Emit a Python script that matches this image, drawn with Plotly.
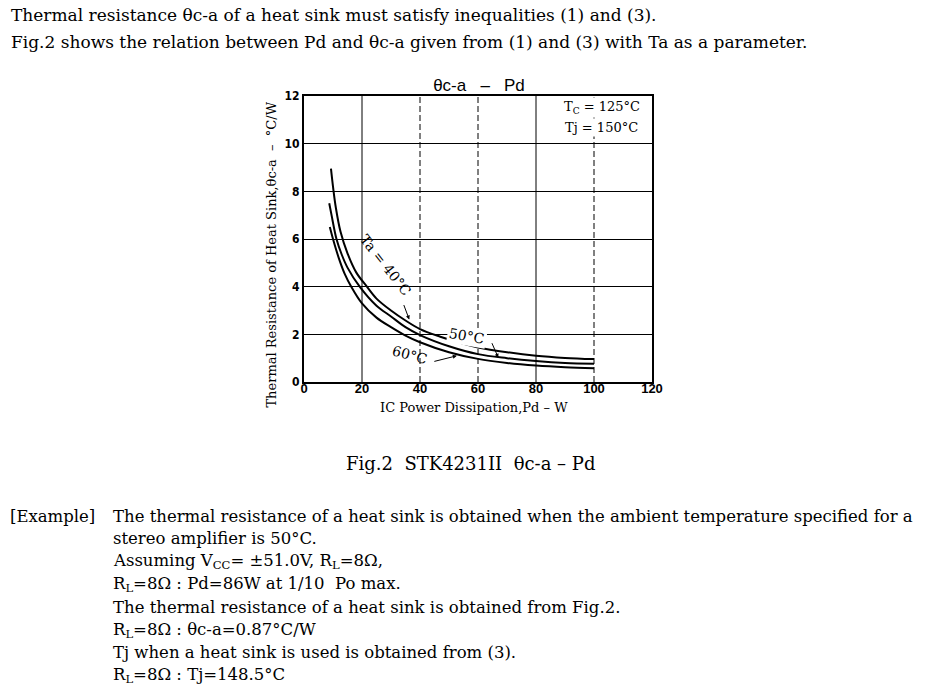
import plotly.graph_objects as go

# ---------------- data ----------------
pd_40 = [9.3, 10, 11, 12.6, 15, 18, 21.7, 25, 30, 35, 40, 47, 55, 60, 70, 80, 90, 100]
th_40 = [8.95, 8.2, 7.3, 6.3, 5.4, 4.6, 4.0, 3.5, 3.0, 2.58, 2.22, 1.9, 1.6, 1.45, 1.25, 1.1, 1.01, 0.96]

pd_50 = [8.7, 9.5, 11.2, 13, 15, 19.2, 25, 30, 35, 40, 50, 60, 70, 80, 90, 100]
th_50 = [7.5, 7.0, 6.0, 5.35, 4.8, 4.0, 3.2, 2.75, 2.3, 1.97, 1.5, 1.17, 1.0, 0.88, 0.8, 0.77]

pd_60 = [8.9, 10, 12, 14, 16.3, 20, 25, 30, 35, 40, 50, 60, 70, 80, 90, 100]
th_60 = [6.5, 6.0, 5.2, 4.55, 4.0, 3.3, 2.7, 2.3, 1.95, 1.67, 1.25, 0.97, 0.8, 0.69, 0.62, 0.58]

x_ticks = [0, 20, 40, 60, 80, 100, 120]
y_ticks = [0, 2, 4, 6, 8, 10, 12]
x_grid_solid = [20, 80]
x_grid_dashed = [40, 60, 100]

top_lines = [
    "Thermal resistance θc-a of a heat sink must satisfy inequalities (1) and (3).",
    "Fig.2 shows the relation between Pd and θc-a given from (1) and (3) with Ta as a parameter.",
]
example_label = "[Example]"
example_lines = [
    "The thermal resistance of a heat sink is obtained when the ambient temperature specified for a",
    "stereo amplifier is 50°C.",
    "Assuming V<sub>CC</sub>= ±51.0V, R<sub>L</sub>=8Ω,",
    "R<sub>L</sub>=8Ω : Pd=86W at 1/10  Po max.",
    "The thermal resistance of a heat sink is obtained from Fig.2.",
    "R<sub>L</sub>=8Ω : θc-a=0.87°C/W",
    "Tj when a heat sink is used is obtained from (3).",
    "R<sub>L</sub>=8Ω : Tj=148.5°C",
]
caption = "Fig.2  STK4231II  θc-a – Pd"

# ---------------- layout geometry (page pixels) ----------------
W, H = 933, 699
L, R, T, B = 303.5, 652.0, 96.0, 382.0


def px(x, y):
    return (x - L) / (R - L), (B - y) / (B - T)


SERIF = "DejaVu Serif, Liberation Serif, serif"
SANS = "Liberation Sans, Arial, sans-serif"
NARROW = "Liberation Sans Narrow, DejaVu Sans Condensed, Arial Narrow, sans-serif"

fig = go.Figure()
for xs, ys in [(pd_40, th_40), (pd_50, th_50), (pd_60, th_60)]:
    fig.add_trace(go.Scatter(x=xs, y=ys, mode="lines",
                             line=dict(color="black", width=2, shape="spline"),
                             showlegend=False, hoverinfo="skip"))

for v in x_grid_solid:
    fig.add_vline(x=v, line=dict(color="black", width=1), layer="below")
for v in x_grid_dashed:
    fig.add_vline(x=v, line=dict(color="black", width=1, dash="6px,3px"), layer="below")

anns = []
for i, t in enumerate(top_lines):
    x, y = px(8, 15 + 27.5 * i)
    anns.append(dict(x=x, y=y, text=t, xanchor="left", yanchor="middle"))

body_font = dict(family=SERIF, size=16.5, color="black")
x, y = px(7, 516)
anns.append(dict(x=x, y=y, text=example_label, xanchor="left", yanchor="middle", font=body_font))
for i, t in enumerate(example_lines):
    x, y = px(110, 516 + 22.8 * i)
    anns.append(dict(x=x, y=y, text=t, xanchor="left", yanchor="middle", font=body_font))

x, y = px(470, 463)
anns.append(dict(x=x, y=y, text=caption, xanchor="center", yanchor="middle",
                 font=dict(family=SERIF, size=18, color="black")))

# axis titles
x, y = px(270, 255)
anns.append(dict(x=x, y=y, text="Thermal Resistance of Heat Sink,θc-a  –  °C/W",
                 textangle=-90, xanchor="center", yanchor="middle",
                 font=dict(family=SERIF, size=13, color="black")))
x, y = px(474, 407)
anns.append(dict(x=x, y=y, text="IC Power Dissipation,Pd – W",
                 xanchor="center", yanchor="middle",
                 font=dict(family=SERIF, size=13, color="black")))

# conditions
x, y = px(642, 107)
anns.append(dict(x=x, y=y, text="T<sub>C</sub> = 125°C", xanchor="right", yanchor="middle",
                 bgcolor="white", font=dict(family=SERIF, size=13, color="black")))
x, y = px(640, 127)
anns.append(dict(x=x, y=y, text="Tj = 150°C", xanchor="right", yanchor="middle",
                 bgcolor="white", font=dict(family=SERIF, size=13, color="black")))

for a in anns:
    a.setdefault("font", dict(family=SERIF, size=17, color="black"))
    a.update(xref="paper", yref="paper", showarrow=False)

# curve labels (data coordinates)
lab_font = dict(family=SERIF, size=14, color="black")
curve_anns = [
    dict(x=28.1, y=4.9, text="Ta = 40°C", textangle=52, showarrow=False, font=lab_font),
    dict(x=56.3, y=1.95, text="50°C", textangle=10, showarrow=False, font=lab_font,
         bgcolor="white", borderpad=1),
    dict(x=36.7, y=1.13, text="60°C", textangle=15, showarrow=False, font=lab_font),
    dict(x=36.3, y=2.62, text="", showarrow=True, ax=-6, ay=-16, arrowhead=2,
         arrowsize=0.8, arrowwidth=1, arrowcolor="black"),
    dict(x=67, y=1.02, text="", showarrow=True, ax=-7, ay=-16, arrowhead=2,
         arrowsize=0.8, arrowwidth=1, arrowcolor="black"),
    dict(x=52.7, y=1.1, text="", showarrow=True, ax=-24, ay=6, arrowhead=2,
         arrowsize=0.8, arrowwidth=1, arrowcolor="black"),
]
for a in curve_anns:
    a.update(xref="x", yref="y")

fig.update_layout(
    width=W, height=H, autosize=False,
    margin=dict(l=L, r=W - R, t=T, b=H - B, pad=0),
    paper_bgcolor="white", plot_bgcolor="white",
    title=dict(text="θc-a   –   Pd", x=479 / W, xanchor="center",
               y=1 - 85 / H, yanchor="middle",
               font=dict(family=SANS, size=17, color="black")),
    annotations=anns + curve_anns,
    xaxis=dict(range=[0, 120], tickvals=x_ticks, ticktext=[str(v) for v in x_ticks],
               showgrid=False, zeroline=False, showline=True, linecolor="black",
               linewidth=1.5, mirror=True, ticks="", ticklabelstandoff=-6,
               tickfont=dict(family=SANS, size=13, color="black", weight="bold")),
    yaxis=dict(range=[0, 12], tickvals=y_ticks, ticktext=[str(v) for v in y_ticks],
               showgrid=True, gridcolor="black", gridwidth=1.2, zeroline=False,
               showline=True, linecolor="black", linewidth=2, mirror=True, ticks="",
               tickfont=dict(family=NARROW, size=12, color="black", weight="bold")),
)

fig.write_html("out.html", config={"displayModeBar": False},
               post_script="document.body.style.margin='0';document.body.style.overflow='hidden';")
